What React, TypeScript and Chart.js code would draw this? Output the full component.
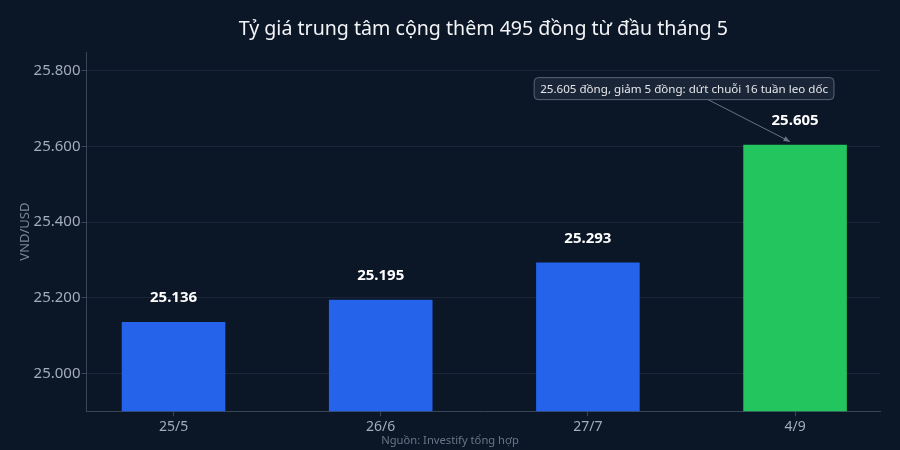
import React, { useEffect, useRef } from "react";
import { Chart, registerables } from "chart.js";

Chart.register(...registerables);

const categories = ["25/5", "26/6", "27/7", "4/9"];
const rates = [25136, 25195, 25293, 25605];
const barColors = ["#2563eb", "#2563eb", "#2563eb", "#22c55e"];
const yTicks = [25000, 25200, 25400, 25600, 25800];
const titleText = "Tỷ giá trung tâm cộng thêm 495 đồng từ đầu tháng 5";
const sourceText = "Nguồn: Investify tổng hợp";
const annotationText = "25.605 đồng, giảm 5 đồng: dứt chuỗi 16 tuần leo dốc";
const annotationIndex = 3;

const BG = "#0b1627";
const FONT = "'Noto Sans', 'Open Sans', sans-serif";

function fmt(v: number): string {
  const s = Math.round(v).toString();
  return s.replace(/\B(?=(\d{3})+(?!\d))/g, ".");
}

const labelsPlugin = {
  id: "valueLabels",
  afterDatasetsDraw(chart: any) {
    const ctx = chart.ctx;
    const meta = chart.getDatasetMeta(0);
    ctx.save();
    ctx.font = `bold 15px ${FONT}`;
    ctx.fillStyle = "#ffffff";
    ctx.textAlign = "center";
    ctx.textBaseline = "middle";
    meta.data.forEach((el: any, i: number) => {
      ctx.fillText(fmt(rates[i]), el.x, el.y - 24);
    });

    const el = meta.data[annotationIndex];
    const bx = el.x - 111;
    const by = el.y - 56;
    ctx.font = `11.6px ${FONT}`;
    const tw = ctx.measureText(annotationText).width;
    const w = tw + 12;
    const h = 22;
    const x0 = bx - w / 2;
    const y0 = by - h / 2;
    const ax0 = bx + 24;
    const ay0 = y0 + h;
    const ax1 = el.x - 5;
    const ay1 = el.y - 3;
    ctx.strokeStyle = "#6b7280";
    ctx.lineWidth = 1;
    ctx.beginPath();
    ctx.moveTo(ax0, ay0);
    ctx.lineTo(ax1, ay1);
    ctx.stroke();
    const ang = Math.atan2(ay1 - ay0, ax1 - ax0);
    ctx.fillStyle = "#6b7280";
    ctx.beginPath();
    ctx.moveTo(ax1, ay1);
    ctx.lineTo(ax1 - 7 * Math.cos(ang - 0.4), ay1 - 7 * Math.sin(ang - 0.4));
    ctx.lineTo(ax1 - 7 * Math.cos(ang + 0.4), ay1 - 7 * Math.sin(ang + 0.4));
    ctx.closePath();
    ctx.fill();
    ctx.fillStyle = "#1a2537";
    ctx.strokeStyle = "#5b6575";
    ctx.beginPath();
    (ctx as any).roundRect(x0, y0, w, h, 4);
    ctx.fill();
    ctx.stroke();
    ctx.fillStyle = "#e5e7eb";
    ctx.textAlign = "center";
    ctx.fillText(annotationText, bx, by + 1);
    ctx.restore();
  },
  afterDraw(chart: any) {
    const ctx = chart.ctx;
    const area = chart.chartArea;
    ctx.save();
    ctx.textAlign = "center";
    ctx.textBaseline = "middle";
    ctx.fillStyle = "#f3f4f6";
    ctx.font = `19.6px ${FONT}`;
    ctx.fillText(titleText, (area.left + area.right) / 2, 29);
    ctx.fillStyle = "#6b7585";
    ctx.font = `11.2px ${FONT}`;
    ctx.fillText(sourceText, chart.width / 2, 441);
    ctx.restore();
  },
};

const bgPlugin = {
  id: "bg",
  beforeDraw(chart: any) {
    const ctx = chart.ctx;
    ctx.save();
    ctx.fillStyle = BG;
    ctx.fillRect(0, 0, chart.width, chart.height);
    ctx.restore();
  },
};

export default function App() {
  const ref = useRef<HTMLCanvasElement>(null);
  useEffect(() => {
    document.body.style.margin = "0";
    document.body.style.background = BG;
    if (!ref.current) return;
    const chart = new Chart(ref.current, {
      type: "bar",
      data: {
        datasets: [
          {
            data: rates.map((v, i) => ({ x: i, y: v })),
            backgroundColor: barColors,
            borderWidth: 0,
            barPercentage: 0.5,
            categoryPercentage: 1,
          },
        ],
      },
      options: {
        animation: false,
        responsive: false,
        maintainAspectRatio: false,
        layout: { padding: { left: 17, right: 20, top: 52, bottom: 13 } },
        plugins: {
          legend: { display: false },
          tooltip: { enabled: false },
          title: { display: false },
        },
        scales: {
          x: {
            type: "linear",
            min: -0.42,
            max: 3.41,
            offset: false,
            afterBuildTicks(scale: any) {
              scale.ticks = categories.map((_, i) => ({ value: i }));
            },
            grid: {
              display: true,
              drawOnChartArea: false,
              offset: false,
              color: "#3a4556",
              tickLength: 5,
            },
            border: { color: "#3a4556" },
            ticks: {
              color: "#a3acb9",
              font: { family: FONT, size: 14 },
              padding: 2,
              callback: (v: any) => categories[Math.round(Number(v))] ?? "",
            },
          },
          y: {
            min: 24900,
            max: 25850,
            afterBuildTicks(scale: any) {
              scale.ticks = yTicks.map((v) => ({ value: v }));
            },
            grid: {
              color: "rgba(148,163,184,0.12)",
              tickColor: "#3a4556",
              tickLength: 5,
            },
            border: { color: "#3a4556" },
            ticks: {
              color: "#a3acb9",
              font: { family: FONT, size: 15 },
              padding: 1,
              callback: (v: any) => fmt(Number(v)),
            },
            title: {
              display: true,
              text: "VND/USD",
              color: "#7d8796",
              font: { family: FONT, size: 13 },
              padding: { top: 0, bottom: 0 },
            },
          },
        },
      },
      plugins: [bgPlugin, labelsPlugin],
    } as any);
    return () => chart.destroy();
  }, []);
  return (
    <div style={{ width: 900, height: 450 }}>
      <canvas ref={ref} width={900} height={450} style={{ display: "block", width: 900, height: 450 }} />
    </div>
  );
}
